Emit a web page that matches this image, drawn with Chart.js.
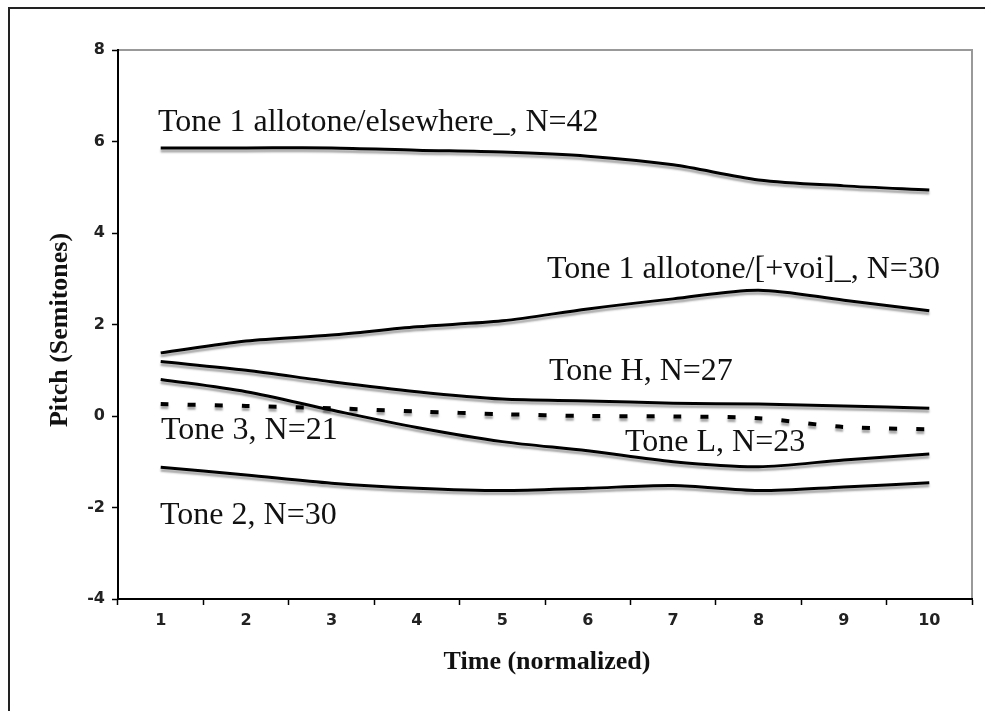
<!DOCTYPE html>
<html>
<head>
<meta charset="utf-8">
<script src="https://cdn.jsdelivr.net/npm/chart.js@4"></script>
<style>
    html, body { margin: 0; padding: 0; background: #fff; }
    #wrap { width: 985px; height: 711px; }
</style>
</head>
<body>
<div id="wrap"><canvas id="chart" width="985" height="711"></canvas></div>
<script>
// time steps (normalized)
const timeSteps = ["1", "2", "3", "4", "5", "6", "7", "8", "9", "10"];

// pitch in semitones
const tone1Elsewhere = [5.86, 5.86, 5.86, 5.81, 5.77, 5.68, 5.49, 5.16, 5.03, 4.94];
const tone1Voi = [1.38, 1.64, 1.77, 1.95, 2.08, 2.34, 2.56, 2.75, 2.53, 2.3];
const toneH = [1.19, 1.0, 0.75, 0.53, 0.37, 0.33, 0.28, 0.26, 0.22, 0.17];
const tone3 = [0.26, 0.22, 0.17, 0.1, 0.04, 0.0, -0.01, -0.05, -0.24, -0.29];
const toneL = [0.8, 0.53, 0.13, -0.25, -0.56, -0.76, -1.0, -1.11, -0.96, -0.83];
const tone2 = [-1.12, -1.29, -1.47, -1.58, -1.63, -1.58, -1.52, -1.63, -1.55, -1.46];

const yTicks = [-4, -2, 0, 2, 4, 6, 8];

// text labels placed next to the curves
const curveLabels = [
    { text: "Tone 1 allotone/elsewhere_, N=42", x: 158, y: 131 },
    { text: "Tone 1 allotone/[+voi]_, N=30", x: 547, y: 278 },
    { text: "Tone H, N=27", x: 549, y: 380 },
    { text: "Tone 3, N=21", x: 161, y: 439 },
    { text: "Tone L, N=23", x: 625, y: 451 },
    { text: "Tone 2, N=30", x: 160, y: 524 },
];

function lineSet(data, dashed) {
    return {
        data,
        borderColor: "#000",
        borderWidth: dashed ? 4 : 3,
        borderDash: dashed ? [8, 19] : [],
        borderCapStyle: "butt",
        pointRadius: 0,
        tension: 0.3,
        fill: false,
    };
}

const shadowPlugin = {
    id: "shadow",
    beforeDatasetsDraw(chart) {
        const ctx = chart.ctx;
        ctx.save();
        ctx.shadowColor = "rgba(0,0,0,0.35)";
        ctx.shadowBlur = 2;
        ctx.shadowOffsetY = 3;
    },
    afterDatasetsDraw(chart) {
        chart.ctx.restore();
    }
};

const framePlugin = {
    id: "frame",
    beforeDraw(chart) {
        const ctx = chart.ctx;
        const a = chart.chartArea;
        ctx.save();
        ctx.fillStyle = "#fff";
        ctx.fillRect(0, 0, chart.width, chart.height);
        ctx.strokeStyle = "#222";
        ctx.lineWidth = 2;
        ctx.strokeRect(9, 8, 1100, 1100);
        // light top and right edges of the plot box
        ctx.strokeStyle = "#999";
        ctx.lineWidth = 2;
        ctx.beginPath();
        ctx.moveTo(a.left, a.top);
        ctx.lineTo(a.right, a.top);
        ctx.lineTo(a.right, a.bottom);
        ctx.stroke();
        ctx.restore();
    },
    afterDraw(chart) {
        const ctx = chart.ctx;
        ctx.save();
        ctx.fillStyle = "#111";
        ctx.font = "32px 'Liberation Serif', 'Times New Roman', serif";
        ctx.textBaseline = "alphabetic";
        ctx.textAlign = "left";
        curveLabels.forEach(l => ctx.fillText(l.text, l.x, l.y));

        // axis titles
        ctx.font = "bold 26px 'Liberation Serif', 'Times New Roman', serif";
        ctx.textAlign = "center";
        ctx.textBaseline = "middle";
        ctx.fillText("Time (normalized)", 547, 662);
        ctx.translate(60, 330);
        ctx.rotate(-Math.PI / 2);
        ctx.fillText("Pitch (Semitones)", 0, 0);
        ctx.restore();
    }
};

new Chart(document.getElementById("chart"), {
    type: "line",
    data: {
        labels: timeSteps,
        datasets: [
            lineSet(tone1Elsewhere),
            lineSet(tone1Voi),
            lineSet(toneH),
            lineSet(tone3, true),
            lineSet(toneL),
            lineSet(tone2),
        ]
    },
    options: {
        responsive: false,
        animation: false,
        layout: {
            padding: { top: 50, right: 13, left: 0, bottom: 0 }
        },
        plugins: {
            legend: { display: false },
            tooltip: { enabled: false },
        },
        scales: {
            x: {
                offset: true,
                grid: {
                    offset: true,
                    drawOnChartArea: false,
                    color: "#000",
                    tickLength: 6,
                    tickWidth: 1.5,
                },
                border: { color: "#000", width: 2 },
                ticks: {
                    color: "#222",
                    padding: 6,
                    font: { family: "'DejaVu Sans', sans-serif", size: 16, weight: "bold" },
                },
                afterFit(scale) { scale.height = 112; },
            },
            y: {
                min: -4,
                max: 8,
                afterBuildTicks(scale) {
                    scale.ticks = yTicks.map(v => ({ value: v }));
                },
                grid: {
                    drawOnChartArea: false,
                    color: "#000",
                    tickLength: 6,
                    tickWidth: 1.5,
                },
                border: { color: "#000", width: 2 },
                ticks: {
                    color: "#222",
                    padding: 7,
                    font: { family: "'DejaVu Sans', sans-serif", size: 16, weight: "bold" },
                },
                afterFit(scale) { scale.width = 118; },
            }
        }
    },
    plugins: [framePlugin, shadowPlugin]
});
</script>
</body>
</html>
